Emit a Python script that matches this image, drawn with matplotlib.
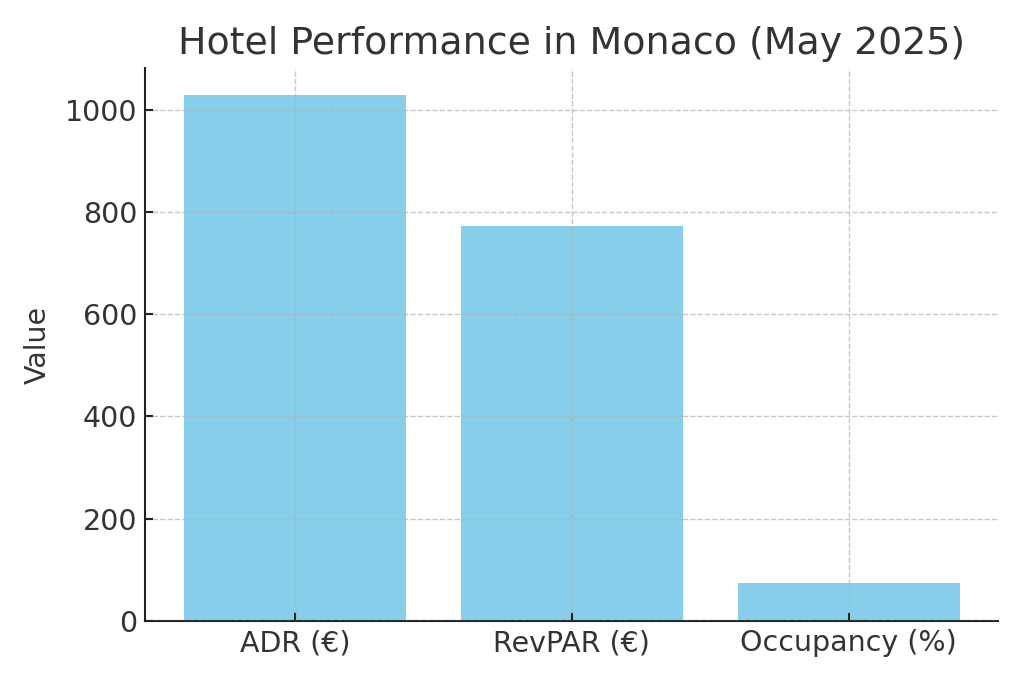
import matplotlib.pyplot as plt

categories = ['ADR (€)', 'RevPAR (€)', 'Occupancy (%)']
values = [1030, 772, 75]

text_color = '#333333'

fig, ax = plt.subplots(figsize=(10.24, 6.83), dpi=100)
fig.subplots_adjust(left=0.142, right=0.975, top=0.9, bottom=0.091)

ax.bar(categories, values, color='skyblue', width=0.8)

ax.set_title('Hotel Performance in Monaco (May 2025)', fontsize=27.3, color=text_color, pad=10)
ax.set_ylabel('Value', fontsize=20.5, color=text_color, labelpad=9)

ax.grid(True, linestyle='--', color='#b0b0b0', alpha=0.7, linewidth=1)
ax.set_axisbelow(False)

for side in ['top', 'right']:
    ax.spines[side].set_visible(False)
for side in ['left', 'bottom']:
    ax.spines[side].set_color('#222222')
    ax.spines[side].set_linewidth(1.5)

ax.tick_params(axis='both', direction='in', labelsize=20.5, labelcolor=text_color,
               color='#222222', length=6, width=1.5, pad=6)

plt.savefig('out.png', dpi=100)
